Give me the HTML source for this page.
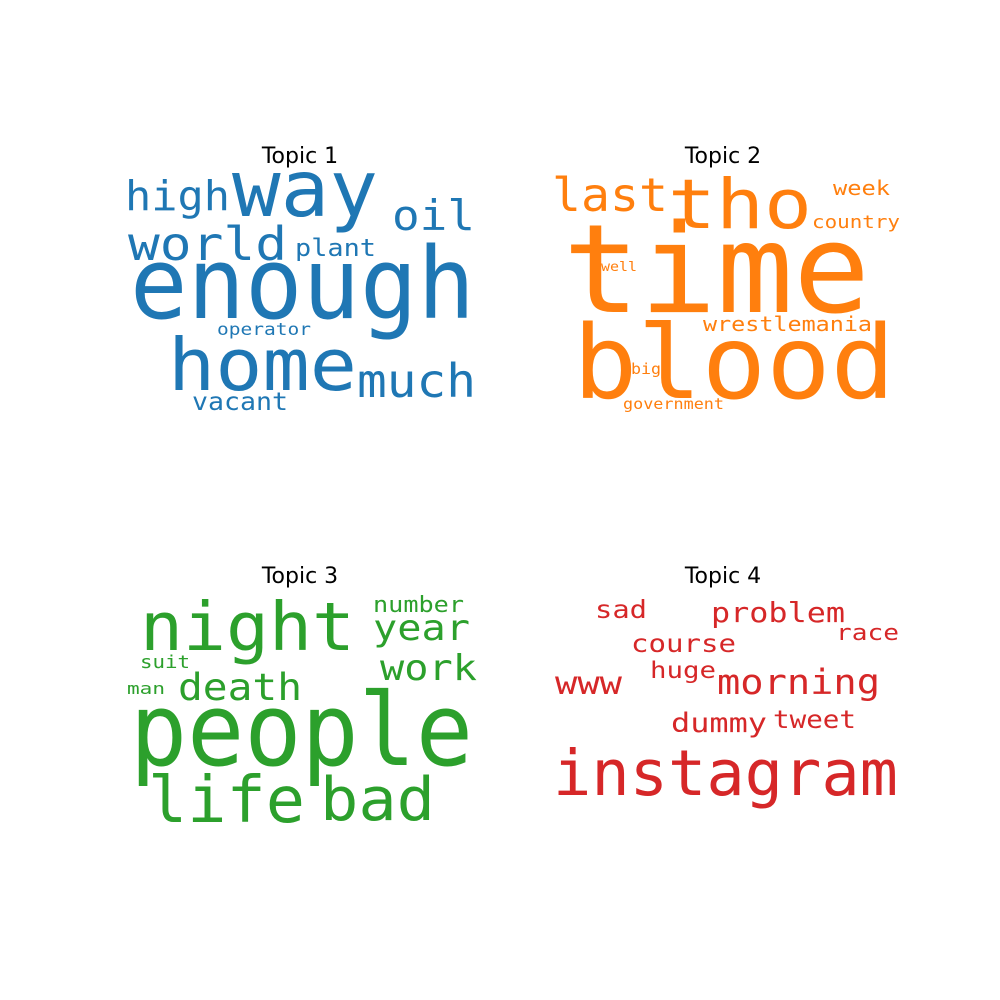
<!DOCTYPE html>
<html><head><meta charset="utf-8"><style>
html,body{margin:0;padding:0;background:#fff;}
svg{display:block}
.t{font-family:"DejaVu Sans","Liberation Sans",sans-serif;font-size:22px;fill:#000;text-anchor:middle}
.w{font-family:"DejaVu Sans Mono","Liberation Mono",monospace}
.b{fill:#1f77b4}.o{fill:#ff7f0e}.g{fill:#2ca02c}.r{fill:#d62728}
</style></head><body>
<svg width="1000" height="1000" viewBox="0 0 1000 1000">
<rect width="1000" height="1000" fill="#fff"/>
<text class="t" x="300" y="163">Topic 1</text>
<text class="t" x="723" y="163">Topic 2</text>
<text class="t" x="300" y="583">Topic 3</text>
<text class="t" x="723" y="583">Topic 4</text>

<g class="b">
<text class="w" x="130" y="318" font-size="99" textLength="345" lengthAdjust="spacingAndGlyphs">enough</text>
<text class="w" x="232" y="216" font-size="78" textLength="146" lengthAdjust="spacingAndGlyphs">way</text>
<text class="w" x="125" y="210" font-size="41" textLength="105" lengthAdjust="spacingAndGlyphs">high</text>
<text class="w" x="392" y="230" font-size="42" textLength="83" lengthAdjust="spacingAndGlyphs">oil</text>
<text class="w" x="128" y="260" font-size="46" textLength="159" lengthAdjust="spacingAndGlyphs">world</text>
<text class="w" x="295" y="256" font-size="24" textLength="81" lengthAdjust="spacingAndGlyphs">plant</text>
<text class="w" x="217" y="335" font-size="17" textLength="94" lengthAdjust="spacingAndGlyphs">operator</text>
<text class="w" x="168" y="390" font-size="72" textLength="189" lengthAdjust="spacingAndGlyphs">home</text>
<text class="w" x="357" y="397" font-size="46" textLength="119" lengthAdjust="spacingAndGlyphs">much</text>
<text class="w" x="192" y="410" font-size="25" textLength="96" lengthAdjust="spacingAndGlyphs">vacant</text>
</g>

<g class="o">
<text class="w" x="552" y="211" font-size="46" textLength="116" lengthAdjust="spacingAndGlyphs">last</text>
<text class="w" x="668" y="228" font-size="69" textLength="144" lengthAdjust="spacingAndGlyphs">tho</text>
<text class="w" x="833" y="195" font-size="20" textLength="57" lengthAdjust="spacingAndGlyphs">week</text>
<text class="w" x="812" y="228" font-size="18" textLength="88" lengthAdjust="spacingAndGlyphs">country</text>
<text class="w" x="563" y="312" font-size="123" textLength="307" lengthAdjust="spacingAndGlyphs">time</text>
<text class="w" x="601" y="271" font-size="13" textLength="36" lengthAdjust="spacingAndGlyphs">well</text>
<text class="w" x="703" y="331" font-size="20" textLength="169" lengthAdjust="spacingAndGlyphs">wrestlemania</text>
<text class="w" x="573" y="398" font-size="102" textLength="322" lengthAdjust="spacingAndGlyphs">blood</text>
<text class="w" x="631" y="374" font-size="15" textLength="30" lengthAdjust="spacingAndGlyphs">big</text>
<text class="w" x="623" y="409" font-size="15" textLength="101" lengthAdjust="spacingAndGlyphs">government</text>
</g>

<g class="g">
<text class="w" x="140" y="650" font-size="67" textLength="215" lengthAdjust="spacingAndGlyphs">night</text>
<text class="w" x="373" y="612" font-size="22" textLength="91" lengthAdjust="spacingAndGlyphs">number</text>
<text class="w" x="373" y="640" font-size="36" textLength="97" lengthAdjust="spacingAndGlyphs">year</text>
<text class="w" x="380" y="680" font-size="36" textLength="97" lengthAdjust="spacingAndGlyphs">work</text>
<text class="w" x="140" y="668" font-size="18" textLength="50" lengthAdjust="spacingAndGlyphs">suit</text>
<text class="w" x="127" y="694" font-size="16" textLength="38" lengthAdjust="spacingAndGlyphs">man</text>
<text class="w" x="178" y="700" font-size="37" textLength="124" lengthAdjust="spacingAndGlyphs">death</text>
<text class="w" x="130" y="765" font-size="101" textLength="343" lengthAdjust="spacingAndGlyphs">people</text>
<text class="w" x="148" y="822" font-size="64" textLength="157" lengthAdjust="spacingAndGlyphs">life</text>
<text class="w" x="320" y="820" font-size="60" textLength="115" lengthAdjust="spacingAndGlyphs">bad</text>
</g>

<g class="r">
<text class="w" x="595" y="618" font-size="25" textLength="52" lengthAdjust="spacingAndGlyphs">sad</text>
<text class="w" x="711" y="622" font-size="28" textLength="134" lengthAdjust="spacingAndGlyphs">problem</text>
<text class="w" x="836" y="640" font-size="22" textLength="63" lengthAdjust="spacingAndGlyphs">race</text>
<text class="w" x="631" y="652" font-size="25" textLength="105" lengthAdjust="spacingAndGlyphs">course</text>
<text class="w" x="650" y="678" font-size="23" textLength="66" lengthAdjust="spacingAndGlyphs">huge</text>
<text class="w" x="555" y="694" font-size="32" textLength="67" lengthAdjust="spacingAndGlyphs">www</text>
<text class="w" x="717" y="694" font-size="35" textLength="163" lengthAdjust="spacingAndGlyphs">morning</text>
<text class="w" x="671" y="732" font-size="27" textLength="96" lengthAdjust="spacingAndGlyphs">dummy</text>
<text class="w" x="773" y="728" font-size="25" textLength="83" lengthAdjust="spacingAndGlyphs">tweet</text>
<text class="w" x="553" y="795" font-size="63" textLength="345" lengthAdjust="spacingAndGlyphs">instagram</text>
</g>
</svg>
</body></html>
